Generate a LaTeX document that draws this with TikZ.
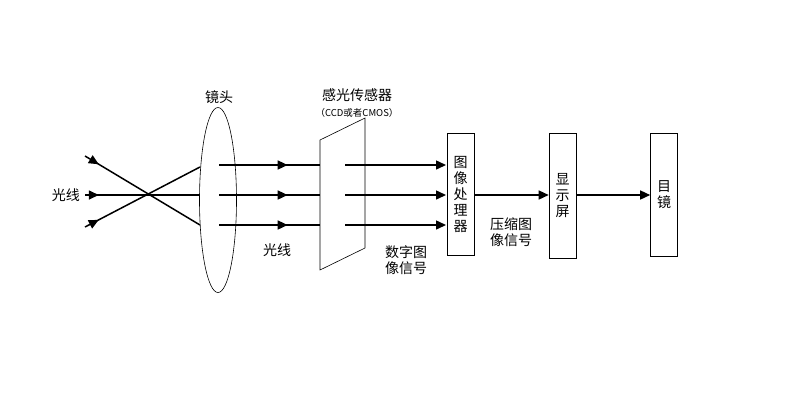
\documentclass[tikz,border=0pt]{standalone}
\usepackage{fontspec}
\setmainfont{Noto Sans CJK SC}
\usetikzlibrary{arrows.meta,decorations.markings,shapes.geometric}
\begin{document}
\begin{tikzpicture}[x=1pt,y=-1pt,
  ray/.style={line width=1.5pt},
  midarrow/.style={ray,decoration={markings,mark=at position #1 with {\arrow{Triangle[length=10pt,width=9pt]}}},postaction={decorate}},
  endarrow/.style={ray,-{Triangle[length=10pt,width=9pt]}},
  box/.style={draw,line width=0.6pt,minimum width=27pt,minimum height=122pt,inner sep=0pt,align=center,font=\fontsize{14}{16}\selectfont},
  lbl/.style={font=\fontsize{14}{16}\selectfont,align=center,inner sep=0pt}]
\useasboundingbox (0,0) rectangle (800,400);
% lens
\node[draw,ellipse,line width=0.6pt,minimum width=37pt,minimum height=185pt,inner sep=0pt] (lens) at (218,200) {};
\node[lbl] (lenslbl) at (219,97) {镜头};
% incoming rays
\coordinate (a1) at (85,156); \coordinate (b1) at (200,225);
\coordinate (a2) at (85,195); \coordinate (b2) at (200,195);
\coordinate (a3) at (85,227); \coordinate (b3) at (200,167);
\draw[midarrow=0.12] (a1) -- (b1);
\draw[midarrow=0.12] (a2) -- (b2);
\draw[midarrow=0.12] (a3) -- (b3);
\node[lbl,anchor=east] (inlbl) at (80,195) {光线};
% sensor
\draw[line width=0.6pt] (320,140) -- (365,118) -- (365,248) -- (320,270) -- cycle;
\node[lbl] (sens) at (357,95) {感光传感器};
\node[font=\fontsize{9.5}{10}\selectfont,inner sep=0pt] (sens2) at (357,113) {（CCD或者CMOS）};
% rays between lens and sensor
\foreach \y/\n in {165/1,195/2,225/3}{
  \coordinate (l\n) at (219,\y); \coordinate (s\n) at (320,\y);
  \draw[midarrow=0.68] (l\n) -- (s\n);
  \coordinate (o\n) at (345,\y); \coordinate (p\n) at (446,\y);
  \draw[endarrow] (o\n) -- (p\n);
}
\node[lbl] (raylbl) at (277,250) {光线};
\node[lbl] (dig) at (406,260) {数字图\\像信号};
% boxes
\node[box] (proc) at (460.5,194) {图\\像\\处\\理\\器};
\node[box,minimum height=125pt] (disp) at (562.5,195.5) {显\\示\\屏};
\node[box,minimum height=123pt] (eye) at (664,194.5) {目\\镜};
\draw[endarrow] (proc.east |- 0,195) -- (disp.west |- 0,195);
\draw[endarrow] (disp.east |- 0,195) -- (eye.west |- 0,195);
\node[lbl] (comp) at (511,232) {压缩图\\像信号};
\end{tikzpicture}
\end{document}
